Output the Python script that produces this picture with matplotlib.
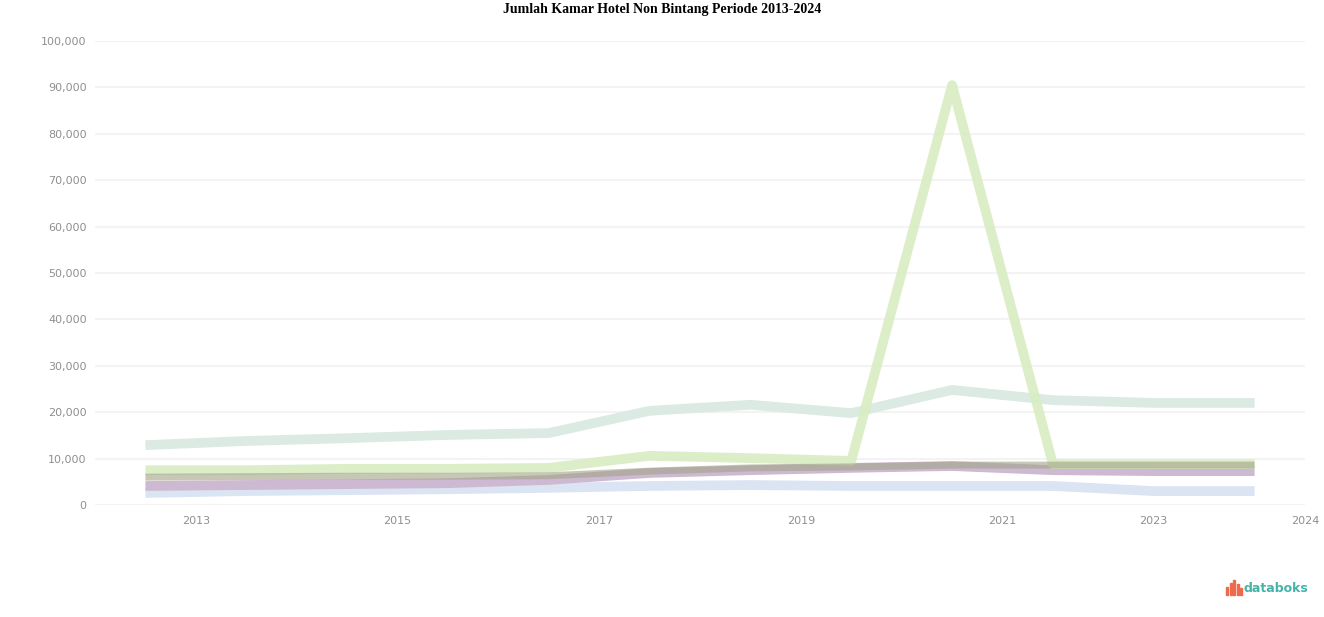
import matplotlib.pyplot as plt
from matplotlib.patches import Rectangle

years = [2013, 2014, 2015, 2016, 2017, 2018, 2019, 2020, 2021, 2022, 2023, 2024]

# values in rooms
teal = [12900, 13800, 14400, 15100, 15500, 20300, 21600, 19800, 24800, 22600, 22000, 22000]
light_green = [7500, 7500, 7800, 7800, 8000, 10600, 10100, 9500, 90500, 8800, 8800, 8800]
olive = [6000, 6100, 6200, 6200, 6300, 7300, 8000, 8200, 8600, 8600, 8600, 8600]
mauve = [4100, 4300, 4500, 4700, 5400, 6900, 7500, 8000, 8400, 7500, 7300, 7300]
blue = [2600, 3000, 3200, 3400, 3700, 4100, 4300, 4100, 4100, 4100, 3000, 3000]

x_ticks = [2013.5, 2015.5, 2017.5, 2019.5, 2021.5, 2023, 2024.5]
x_labels = ['2013', '2015', '2017', '2019', '2021', '2023', '2024']
y_ticks = list(range(0, 100001, 10000))

fig = plt.figure(figsize=(13.24, 6.17), dpi=100)
ax = fig.add_axes([95 / 1324, 1 - 505 / 617, 1210 / 1324, 464 / 617])

ax.plot(years, teal, color='#dbeae3', linewidth=7, solid_capstyle='butt')
ax.plot(years, blue, color='#dbe4f2', linewidth=7, solid_capstyle='butt')
ax.plot(years, mauve, color='#cdb9d2', linewidth=7, solid_capstyle='butt')
ax.plot(years, light_green, color='#d8edc2', linewidth=7, solid_capstyle='butt', alpha=0.9)
ax.plot(years, olive, color='#a3a287', linewidth=5, solid_capstyle='butt', alpha=0.6)

ax.set_xlim(2012.5, 2024.5)
ax.set_ylim(0, 100000)
ax.set_xticks(x_ticks)
ax.set_xticklabels(x_labels)
ax.set_yticks(y_ticks)
ax.set_yticklabels([f'{v:,}' for v in y_ticks])
ax.tick_params(length=0, labelsize=8, colors='#8f8f8f', pad=6)
ax.tick_params(axis='x', pad=8)
for s in ax.spines.values():
    s.set_visible(False)
ax.grid(axis='y', color='#f3f3f3', linewidth=1.5)
ax.set_axisbelow(True)

fig.text(0.5, 1 - 9 / 617, 'Jumlah Kamar Hotel Non Bintang Periode 2013-2024',
         ha='center', va='center', fontsize=10, fontweight='bold',
         family='Liberation Serif')

# databoks logo
fig.text(1244 / 1324, 1 - 589 / 617, 'databoks', ha='left', va='center',
         fontsize=9, color='#45b3a8', fontweight='bold', family='DejaVu Sans')
bar_h = [8, 12, 15, 11, 7]
for i, h in enumerate(bar_h):
    fig.patches.append(Rectangle(((1226 + i * 3.5) / 1324, (1 - 595 / 617)),
                                 2 / 1324, h / 617, transform=fig.transFigure,
                                 color='#ef6a4c'))

plt.savefig('out.png', dpi=100)
